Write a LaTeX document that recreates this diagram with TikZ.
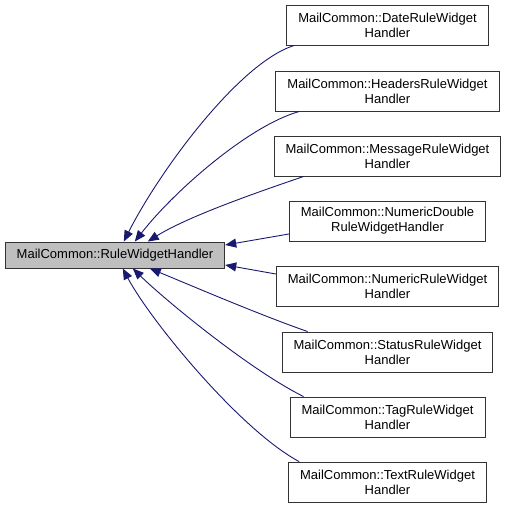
\documentclass[tikz,border=0pt]{standalone}
\usepackage{fontspec}
\setmainfont{Liberation Sans}
\definecolor{EdgeBlue}{RGB}{25,25,112}
\definecolor{BaseGray}{RGB}{191,191,191}
\usetikzlibrary{arrows.meta,calc}
\tikzset{
  cls/.style={draw=black!80,fill=white,line width=0.9pt,align=center,
    font=\fontsize{13}{15}\selectfont,minimum height=40pt,inner xsep=11.5pt,inner ysep=2pt},
  basecls/.style={cls,fill=BaseGray,minimum height=26pt},
  inh/.style={EdgeBlue,line width=0.9pt,-{Triangle[length=11pt,width=9pt]}}
}
\begin{document}
\begin{tikzpicture}[x=1pt,y=-1pt]
\useasboundingbox (0,0) rectangle (507,509);
% base class
\node[basecls] (base) at (115,255) {MailCommon::RuleWidgetHandler};
% derived classes
\node[cls] (date) at (387.5,25) {MailCommon::DateRuleWidget\\Handler};
\node[cls] (headers) at (387.5,91) {MailCommon::HeadersRuleWidget\\Handler};
\node[cls] (message) at (387.5,156) {MailCommon::MessageRuleWidget\\Handler};
\node[cls] (numdouble) at (387.5,221) {MailCommon::NumericDouble\\RuleWidgetHandler};
\node[cls] (numeric) at (387.5,286) {MailCommon::NumericRuleWidget\\Handler};
\node[cls] (status) at (387.5,352) {MailCommon::StatusRuleWidget\\Handler};
\node[cls] (tag) at (387.5,417) {MailCommon::TagRuleWidget\\Handler};
\node[cls] (text) at (387.5,482) {MailCommon::TextRuleWidget\\Handler};
% inheritance edges
\draw[inh] ($(date.south west)+(8,0)$) .. controls (240,62) and (160,170) .. ($(base.north west)+(119,0)$);
\draw[inh] ($(headers.south west)+(24,0)$) .. controls (250,125) and (175,190) .. ($(base.north west)+(130,0)$);
\draw[inh] ($(message.south west)+(30,0)$) .. controls (270,188) and (190,215) .. ($(base.north west)+(143,0)$);
\draw[inh] ($(numdouble.west)+(0,13)$) -- ($(base.east)+(0,-10)$);
\draw[inh] ($(numeric.west)+(0,-12)$) -- ($(base.east)+(0,10)$);
\draw[inh] ($(status.north west)+(26,0)$) .. controls (260,315) and (190,285) .. ($(base.south west)+(145,0)$);
\draw[inh] ($(tag.north west)+(14,0)$) .. controls (250,370) and (165,300) .. ($(base.south west)+(128,0)$);
\draw[inh] ($(text.north west)+(11,0)$) .. controls (240,430) and (150,320) .. ($(base.south west)+(118,0)$);
\end{tikzpicture}
\end{document}
